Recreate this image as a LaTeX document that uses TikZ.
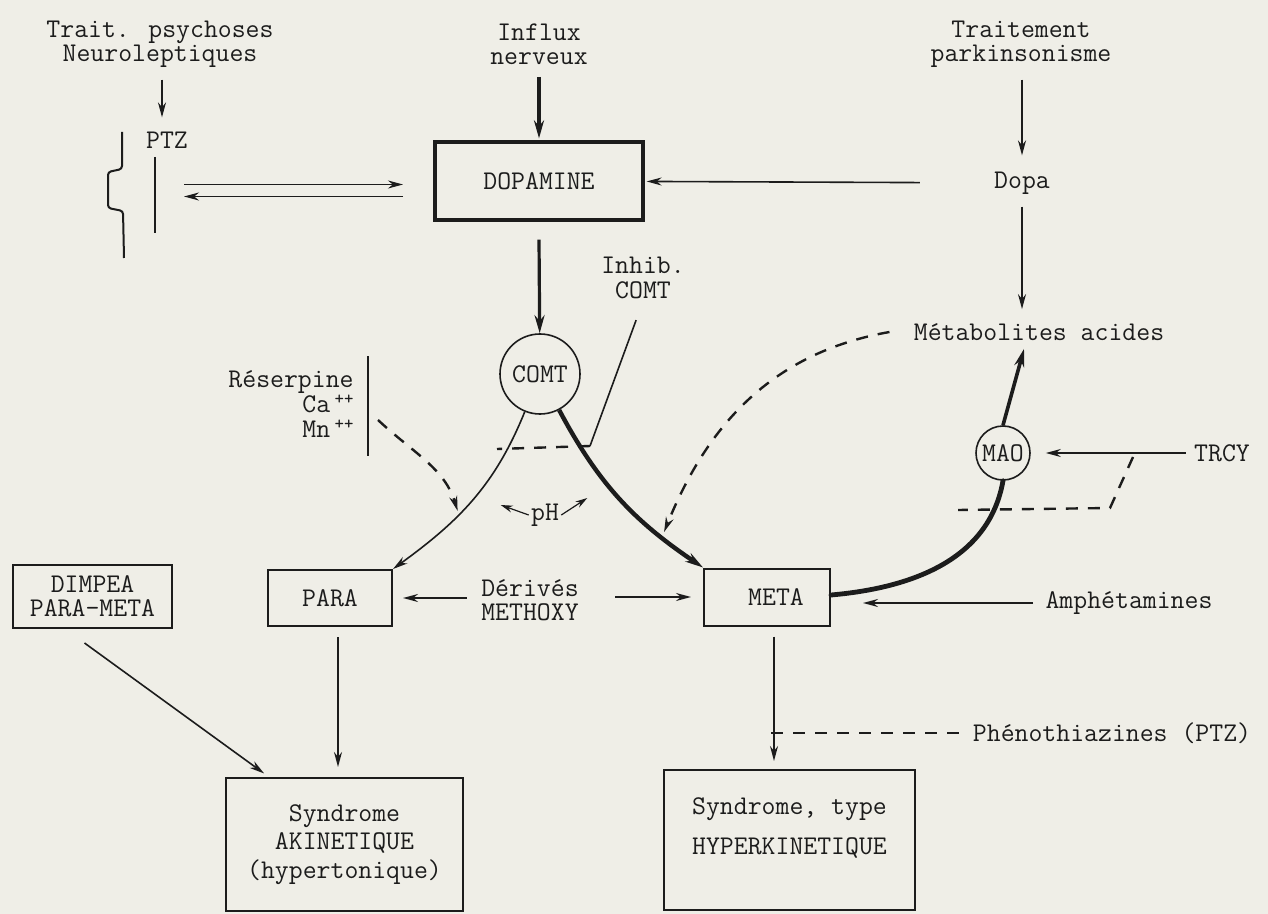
\documentclass[tikz,border=0pt]{standalone}
\usepackage{fontspec}
\usetikzlibrary{arrows.meta,positioning,calc}
\definecolor{paper}{RGB}{239,238,231}
\definecolor{ink}{RGB}{28,28,28}

\tikzset{
    lbl/.style={font=\ttfamily\fontsize{13.5}{12}\selectfont, align=center, inner sep=1pt, text=ink},
    sbox/.style={lbl, draw=ink, line width=1pt},
    enz/.style={lbl, draw=ink, circle, inner sep=0pt, line width=0.8pt},
    thinarr/.style={draw=ink, -{Stealth[length=7.5pt,width=4pt]}, line width=0.8pt},
    fatarr/.style={draw=ink, -{Stealth[length=9pt,width=5pt]}, line width=1.8pt},
    inhib/.style={draw=ink, line width=1.2pt, dash pattern=on 6pt off 5pt},
}

\begin{document}
\begin{tikzpicture}[x=0.5pt, y=-0.5pt]
    \fill[paper] (0,0) rectangle (1268,914);
    \useasboundingbox (0,0) rectangle (1268,914);

    % top labels
    \node[lbl] (psy) at (160,44) {Trait. psychoses\\Neuroleptiques};
    \node[lbl] (flux) at (539,44) {Influx\\nerveux};
    \node[lbl] (park) at (1021,44) {Traitement\\parkinsonisme};

    % PTZ block
    \node[lbl] (ptz) at (167,140) {PTZ};
    \draw[thinarr, shorten <=5pt, shorten >=6pt] (psy.south -| 162,0) -- (ptz.north -| 162,0);
    \draw[ink, line width=1pt, rounded corners=1.5pt] (122,132) -- (122,169) -- (108,172) -- (108,208) -- (123,211) -- (124,258);
    \draw[ink, line width=1pt] (155,157) -- (155,233);

    % dopamine
    \node[sbox, line width=1.6pt, minimum width=104pt, minimum height=39pt] (dop) at (539,181) {DOPAMINE};
    \coordinate (ptzR) at (184,190.5);
    \coordinate (dopL) at (403,190.5);
    \draw[thinarr] ([yshift=3pt]ptzR) -- ([yshift=3pt]dopL);
    \draw[thinarr] ([yshift=-3pt]dopL) -- ([yshift=-3pt]ptzR);
    \draw[fatarr, shorten <=5pt, shorten >=1pt] (flux) -- (dop);

    % dopa
    \node[lbl] (dopa) at (1022,183) {Dopa};
    \node[lbl] (metac) at (1039,332) {Métabolites acides};
    \draw[thinarr, shorten <=5pt, shorten >=7pt] (park.south -| dopa) -- (dopa);
    \draw[thinarr, shorten <=36pt, shorten >=1pt] (dopa) -- (dop);
    \draw[thinarr, shorten <=5pt, shorten >=6pt] (dopa) -- (dopa |- metac.north);

    % COMT
    \node[enz, minimum size=40pt] (comt) at (540,374) {COMT};
    \draw[fatarr, line width=1.6pt] ([yshift=-9pt]dop.south) -- (comt);
    \node[lbl, font=\ttfamily\fontsize{13.5}{12.5}\selectfont] (inh) at (643,278) {Inhib.\\COMT};
    \coordinate (inhK) at (590,446);
    \coordinate (inhL) at (497,449);
    \draw[ink, line width=0.8pt, shorten <=10pt] (inh.south) -- (inhK);
    \draw[inhib] (inhK) -- (inhL);

    % para / meta
    \node[sbox, minimum width=62pt, minimum height=28pt] (para) at (330,598) {PARA};
    \node[sbox, minimum width=63pt, minimum height=28.5pt] (meta) at (767,597) {\hspace*{9pt}META};
    \draw[thinarr] (comt) to[out=-112, in=36] coordinate[pos=0.6] (onpara) (para.north east);
    \draw[fatarr, line width=2.2pt] (comt) to[out=-62, in=146] coordinate[pos=0.78] (onmeta) (meta.north west);

    % pH
    \node[lbl] (ph) at (545,515) {pH};
    \draw[thinarr, line width=0.6pt, -{Stealth[length=6pt,width=3.5pt]}] (ph.west) -- ++(-28,-10);
    \draw[thinarr, line width=0.6pt, -{Stealth[length=6pt,width=3.5pt]}] (ph.east) -- ++(26,-17);

    % reserpine
    \node[lbl, align=right, anchor=east, font=\ttfamily\fontsize{13.5}{12.5}\selectfont] (res) at (356,404) {Réserpine\\Ca\,\raisebox{4pt}{\small ++}\\Mn\,\raisebox{4pt}{\small ++}};
    \draw[ink, line width=1pt] ([xshift=6pt,yshift=6pt]res.north east) -- ([xshift=6pt,yshift=-8pt]res.south east);
    \draw[inhib, -{Stealth[length=7.5pt,width=4pt]}, shorten >=2pt] (378,420) to[out=-43, in=107] (onpara);

    % metabolites, MAO
    \draw[inhib, -{Stealth[length=7.5pt,width=4pt]}, shorten >=3pt] ([xshift=-11pt]metac.west) to[out=190, in=68] (onmeta);
    \node[enz, minimum size=27pt] (mao) at (1003,453) {MAO};
    \draw[fatarr] (mao.north) -- ($(dopa |- metac.south)+(2,6)$);
    \draw[ink, line width=2.4pt, line cap=round] ([yshift=1pt]meta.east) to[out=5, in=-100] (mao.south);
    \node[lbl] (trcy) at (1222,453) {TRCY};
    \draw[thinarr, shorten <=3pt, shorten >=7.5pt] (trcy) -- (mao);
    \coordinate (tr1) at (1133,457);
    \coordinate (tr2) at (1110,508);
    \coordinate (tr3) at (958,510);
    \draw[inhib] (tr1) -- (tr2) -- (tr3);

    % methoxy
    \node[lbl] (meth) at (530,600) {Dérivés\\METHOXY};
    \draw[thinarr, shorten <=6pt, shorten >=5pt] (meth.west |- para) -- (para.east);
    \draw[thinarr, shorten <=17pt, shorten >=6pt] (meth.east |- meta) -- (meta.west);
    \node[lbl] (amph) at (1129,603) {Amphétamines};
    \draw[thinarr, shorten <=5pt, shorten >=16pt] (amph.west) -- (amph.west -| meta.east);

    % syndromes
    \node[sbox, minimum width=79.5pt, minimum height=31.5pt] (dimp) at (92.5,596.5) {DIMPEA\\PARA-META};
    \node[sbox, minimum width=118.5pt, minimum height=66.5pt, font=\ttfamily\fontsize{13.5}{14.25}\selectfont] (aki) at (344.5,844.5) {Syndrome\\AKINETIQUE\\(hypertonique)};
    \node[sbox, minimum width=125.5pt, minimum height=70pt] (hyp) at (789.5,840) {};
    \node[lbl, font=\ttfamily\fontsize{13.5}{20}\selectfont] (hyptxt) at ([yshift=6pt]hyp.center) {Syndrome, type\\HYPERKINETIQUE};
    \draw[thinarr, shorten >=3pt] ([xshift=-4pt,yshift=-7pt]dimp.south) -- ([xshift=22pt]aki.north west);
    \draw[thinarr, shorten <=5pt, shorten >=5pt] ([xshift=4pt]para.south) -- ([xshift=4pt]para.south |- aki.north);
    \draw[thinarr, shorten <=5pt, shorten >=4pt] ([xshift=3.5pt]meta.south) -- ([xshift=3.5pt]meta.south |- hyp.north);
    \node[lbl] (phen) at (1112,733) {Phénothiazines (PTZ)};
    \draw[inhib] ([xshift=-6pt]phen.west) -- ([xshift=-1pt]phen.west -| meta.south);
\end{tikzpicture}
\end{document}
